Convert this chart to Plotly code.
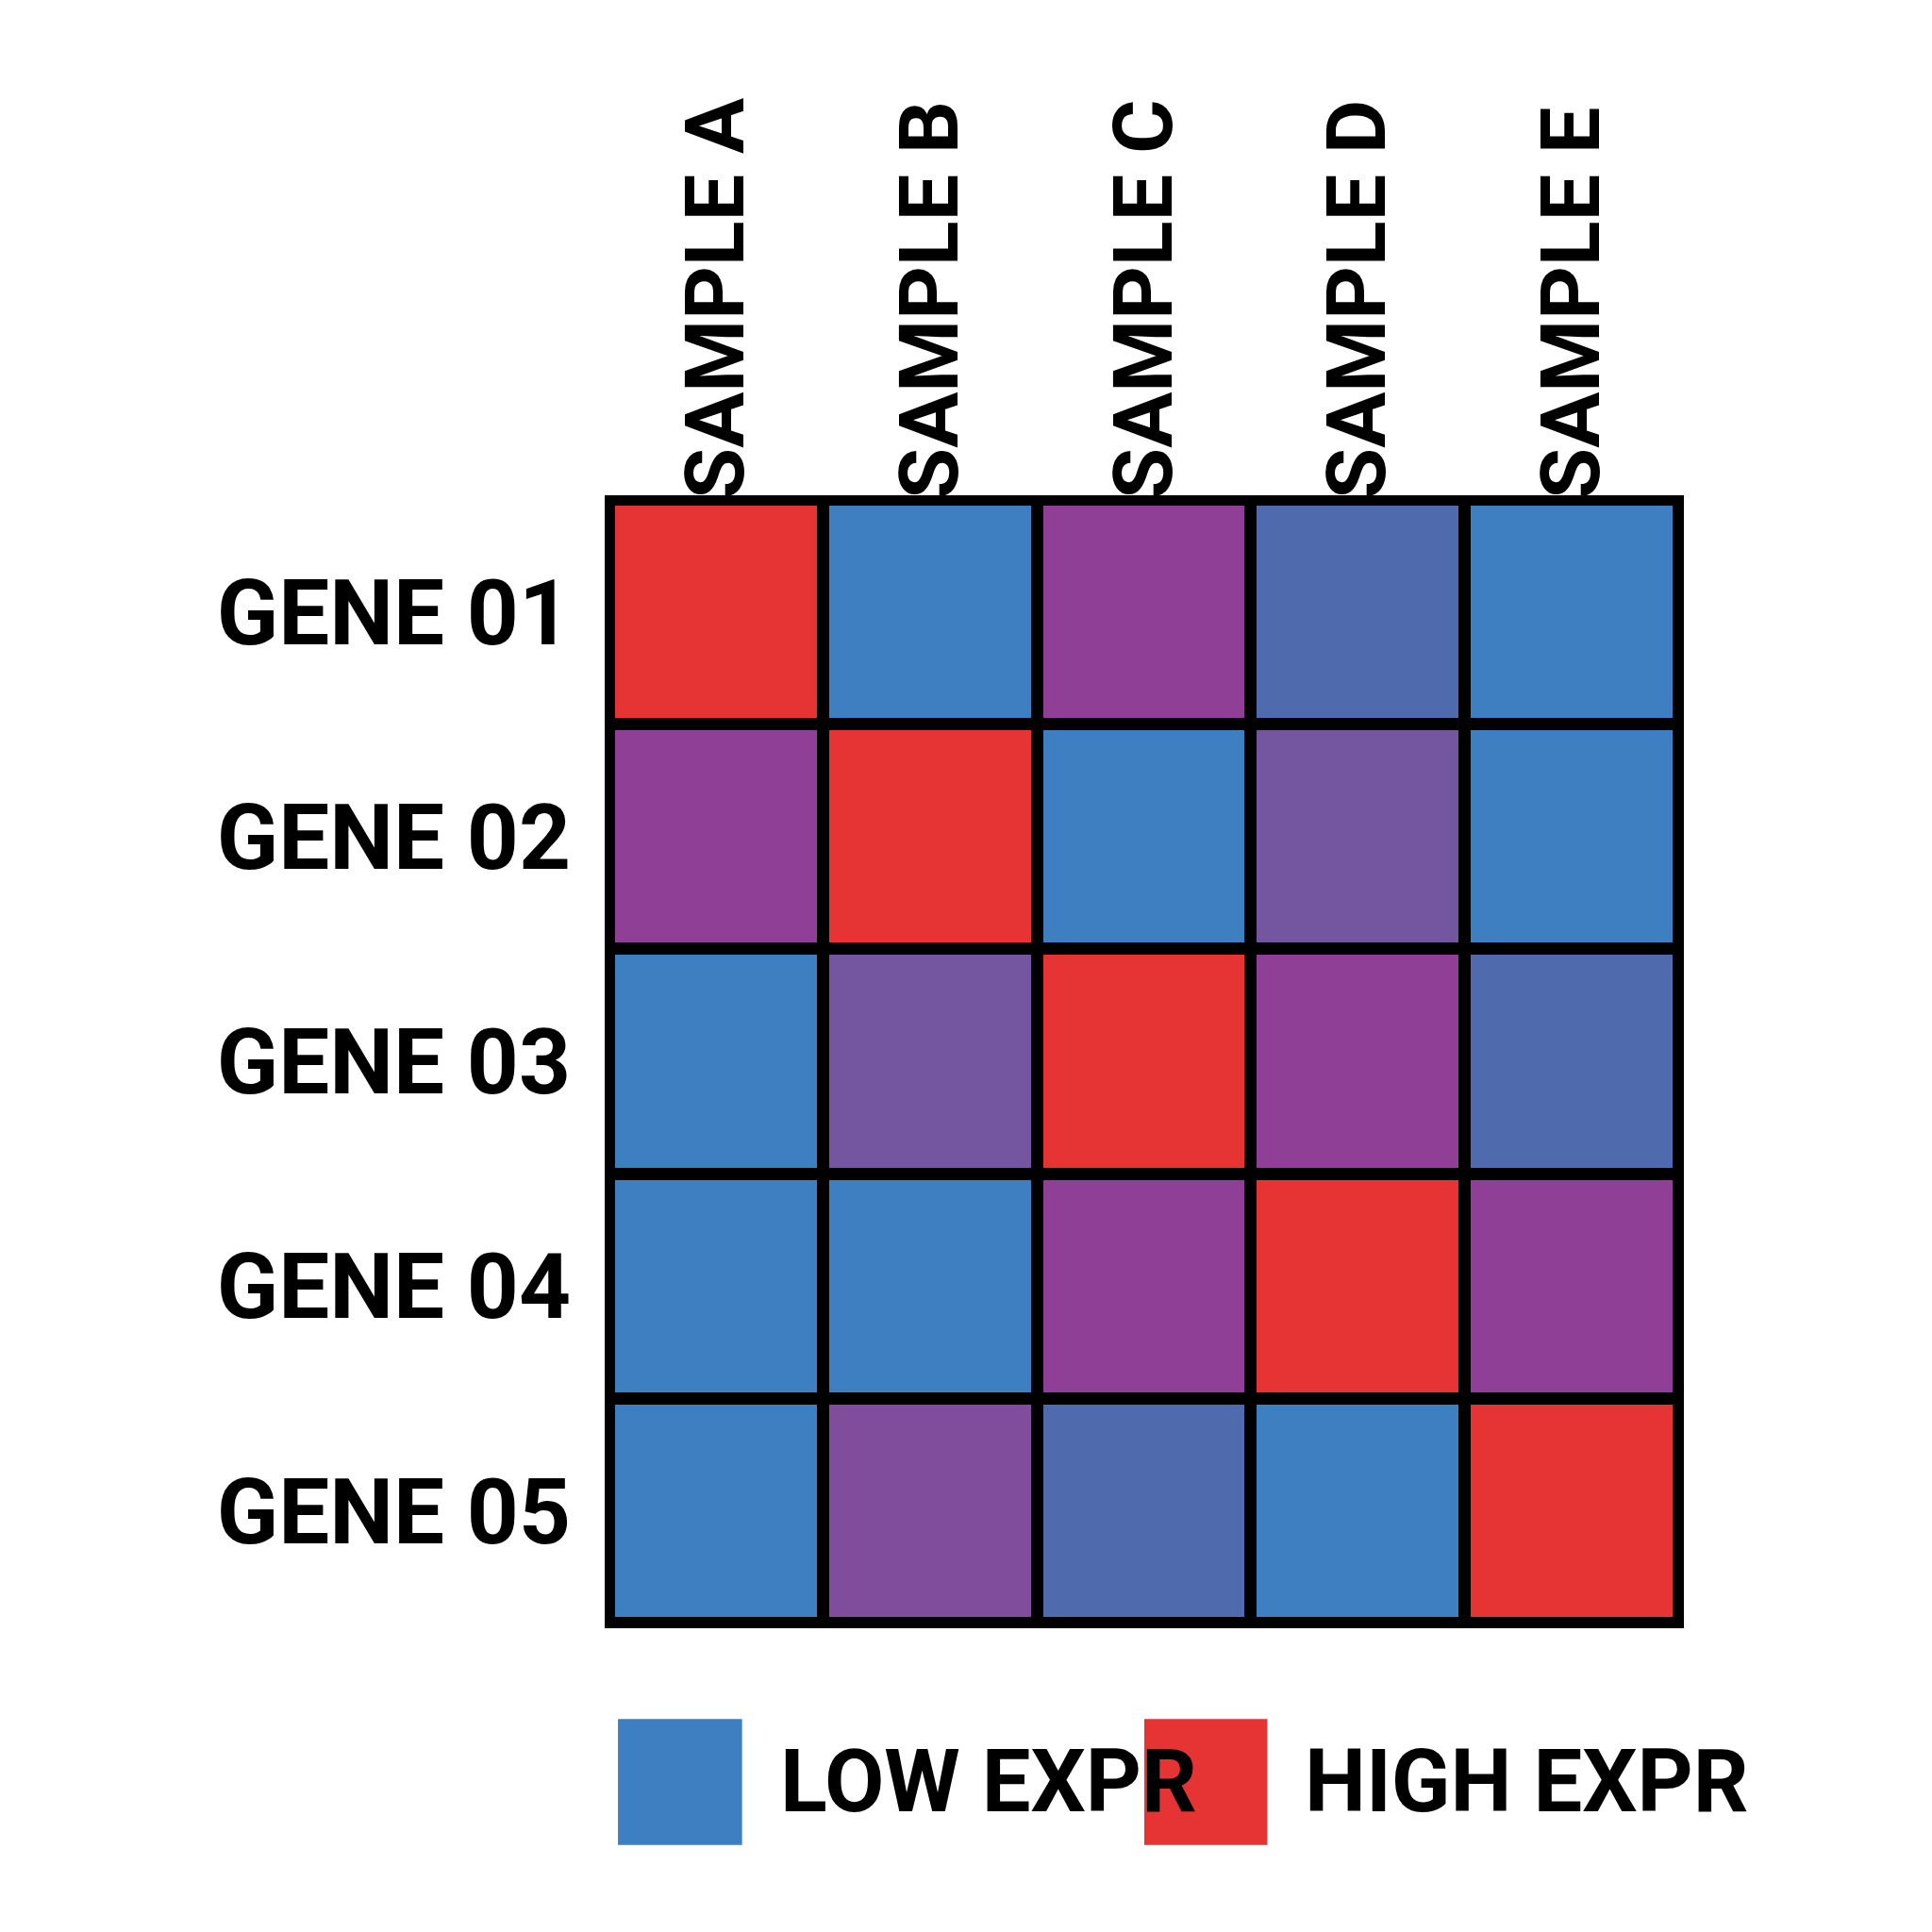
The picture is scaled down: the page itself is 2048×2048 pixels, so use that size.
import plotly.graph_objects as go

samples = ["SAMPLE A", "SAMPLE B", "SAMPLE C", "SAMPLE D", "SAMPLE E"]
genes = ["GENE 01", "GENE 02", "GENE 03", "GENE 04", "GENE 05"]
expr = [
    [1.0, 0.0, 0.75, 0.25, 0.0],
    [0.75, 1.0, 0.0, 0.5, 0.0],
    [0.0, 0.5, 1.0, 0.75, 0.25],
    [0.0, 0.0, 0.75, 1.0, 0.75],
    [0.0, 0.6, 0.25, 0.0, 1.0],
]
legend_labels = ["LOW EXPR", "HIGH EXPR"]

BLUE = "#3d7fc1"
RED = "#e63333"
FONT = "Liberation Sans Narrow, Roboto, sans-serif"

scale = [[0, BLUE], [0.25, "#4f6aad"], [0.5, "#7456a0"], [0.75, "#8f3f96"], [1, RED]]

fig = go.Figure(go.Heatmap(
    z=expr, x=samples, y=genes, colorscale=scale, zmin=0, zmax=1,
    showscale=False, xgap=13, ygap=13,
))

fig.update_layout(
    width=2048, height=2048,
    margin=dict(l=638, r=276, t=522, b=335),
    paper_bgcolor="white", plot_bgcolor="black",
    font=dict(family=FONT, color="black", size=90),
    xaxis=dict(side="top", tickangle=-90, showgrid=False, zeroline=False, ticks="",
               tickfont=dict(size=88, family=FONT, weight="bold")),
    yaxis=dict(autorange="reversed", showgrid=False, zeroline=False, ticks="",
               ticklabelstandoff=40,
               tickfont=dict(size=96, family=FONT, weight="bold")),
)

fig.add_shape(type="rect", xref="paper", yref="paper", x0=0, x1=1, y0=0, y1=1,
              line=dict(color="black", width=10))

# legend
y0, y1 = -0.197, -0.085
fig.add_shape(type="rect", xref="paper", yref="paper", x0=0.008, x1=0.124, y0=y0, y1=y1,
              fillcolor=BLUE, line_width=0)
fig.add_shape(type="rect", xref="paper", yref="paper", x0=0.5, x1=0.615, y0=y0, y1=y1,
              fillcolor=RED, line_width=0)
for xp, txt in [(0.158, legend_labels[0]), (0.648, legend_labels[1])]:
    fig.add_annotation(xref="paper", yref="paper", x=xp, y=(y0 + y1) / 2, text=txt,
                       showarrow=False, xanchor="left", yanchor="middle",
                       font=dict(size=92, family=FONT, weight="bold"))

fig.write_html("out.html")
